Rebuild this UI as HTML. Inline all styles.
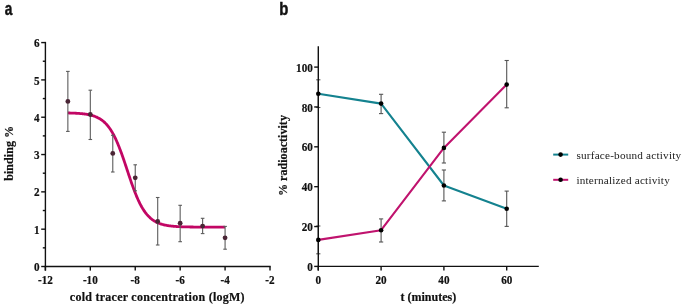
<!DOCTYPE html><html><head><meta charset="utf-8"><style>html,body{margin:0;padding:0;background:#fff;}svg{display:block;filter:blur(0.4px);} .serif{font-family:"Liberation Serif",serif;} .sans{font-family:"Liberation Sans",sans-serif;}</style></head><body>
<svg width="685" height="308" viewBox="0 0 685 308">
<text transform="translate(4.8,14.5) scale(0.78,1)" class="sans" font-weight="bold" font-size="17.5" fill="#111" stroke="#111" stroke-width="0.45">a</text>
<text transform="translate(279.3,14.5) scale(0.85,1)" class="sans" font-weight="bold" font-size="17.5" fill="#111" stroke="#111" stroke-width="0.45">b</text>
<g stroke="#111" stroke-width="1.4" fill="none"><line x1="45.4" y1="41.88" x2="45.4" y2="270.6" /><line x1="44.699999999999996" y1="266.5" x2="270.70" y2="266.5" /><line x1="41.199999999999996" y1="266.50" x2="45.4" y2="266.50" /><line x1="41.199999999999996" y1="229.18" x2="45.4" y2="229.18" /><line x1="41.199999999999996" y1="191.86" x2="45.4" y2="191.86" /><line x1="41.199999999999996" y1="154.54" x2="45.4" y2="154.54" /><line x1="41.199999999999996" y1="117.22" x2="45.4" y2="117.22" /><line x1="41.199999999999996" y1="79.90" x2="45.4" y2="79.90" /><line x1="41.199999999999996" y1="42.58" x2="45.4" y2="42.58" /><line x1="42.8" y1="247.84" x2="45.4" y2="247.84" /><line x1="42.8" y1="210.52" x2="45.4" y2="210.52" /><line x1="42.8" y1="173.20" x2="45.4" y2="173.20" /><line x1="42.8" y1="135.88" x2="45.4" y2="135.88" /><line x1="42.8" y1="98.56" x2="45.4" y2="98.56" /><line x1="42.8" y1="61.24" x2="45.4" y2="61.24" /><line x1="45.40" y1="266.5" x2="45.40" y2="270.6" /><line x1="90.32" y1="266.5" x2="90.32" y2="270.6" /><line x1="135.24" y1="266.5" x2="135.24" y2="270.6" /><line x1="180.16" y1="266.5" x2="180.16" y2="270.6" /><line x1="225.08" y1="266.5" x2="225.08" y2="270.6" /><line x1="270.00" y1="266.5" x2="270.00" y2="270.6" /></g>
<g class="serif" font-weight="bold" font-size="12.0" fill="#111" stroke="#111" stroke-width="0.2"><text transform="translate(39.5,271.10) scale(0.93,1)" text-anchor="end">0</text><text transform="translate(39.5,233.78) scale(0.93,1)" text-anchor="end">1</text><text transform="translate(39.5,196.46) scale(0.93,1)" text-anchor="end">2</text><text transform="translate(39.5,159.14) scale(0.93,1)" text-anchor="end">3</text><text transform="translate(39.5,121.82) scale(0.93,1)" text-anchor="end">4</text><text transform="translate(39.5,84.50) scale(0.93,1)" text-anchor="end">5</text><text transform="translate(39.5,47.18) scale(0.93,1)" text-anchor="end">6</text><text transform="translate(45.40,284.0) scale(0.93,1)" text-anchor="middle">-12</text><text transform="translate(90.32,284.0) scale(0.93,1)" text-anchor="middle">-10</text><text transform="translate(135.24,284.0) scale(0.93,1)" text-anchor="middle">-8</text><text transform="translate(180.16,284.0) scale(0.93,1)" text-anchor="middle">-6</text><text transform="translate(225.08,284.0) scale(0.93,1)" text-anchor="middle">-4</text><text transform="translate(270.00,284.0) scale(0.93,1)" text-anchor="middle">-2</text></g>
<text x="157.35" y="300.8" text-anchor="middle" class="serif" font-weight="bold" font-size="12.0" letter-spacing="0.26" fill="#111" stroke="#111" stroke-width="0.2">cold tracer concentration (logM)</text>
<text transform="translate(12.8,153.35) rotate(-90)" text-anchor="middle" class="serif" font-weight="bold" font-size="12.1" fill="#111" stroke="#111" stroke-width="0.2">binding %</text>
<polyline points="67.86,112.96 68.38,112.97 68.91,112.98 69.43,113.00 69.96,113.01 70.48,113.03 71.00,113.05 71.53,113.06 72.05,113.08 72.58,113.10 73.10,113.12 73.62,113.14 74.15,113.16 74.67,113.19 75.20,113.21 75.72,113.24 76.25,113.27 76.77,113.30 77.29,113.33 77.82,113.36 78.34,113.40 78.87,113.44 79.39,113.47 79.91,113.52 80.44,113.56 80.96,113.61 81.49,113.65 82.01,113.71 82.53,113.76 83.06,113.82 83.58,113.88 84.11,113.94 84.63,114.01 85.15,114.08 85.68,114.16 86.20,114.24 86.73,114.32 87.25,114.41 87.77,114.50 88.30,114.60 88.82,114.70 89.35,114.81 89.87,114.93 90.39,115.05 90.92,115.18 91.44,115.32 91.97,115.46 92.49,115.61 93.02,115.77 93.54,115.94 94.06,116.11 94.59,116.30 95.11,116.49 95.64,116.70 96.16,116.92 96.68,117.15 97.21,117.39 97.73,117.64 98.26,117.91 98.78,118.19 99.30,118.48 99.83,118.79 100.35,119.11 100.88,119.46 101.40,119.81 101.92,120.19 102.45,120.59 102.97,121.00 103.50,121.43 104.02,121.89 104.54,122.37 105.07,122.86 105.59,123.39 106.12,123.93 106.64,124.50 107.16,125.10 107.69,125.72 108.21,126.38 108.74,127.05 109.26,127.76 109.79,128.50 110.31,129.27 110.83,130.06 111.36,130.89 111.88,131.75 112.41,132.65 112.93,133.57 113.45,134.53 113.98,135.53 114.50,136.55 115.03,137.61 115.55,138.71 116.07,139.83 116.60,140.99 117.12,142.19 117.65,143.41 118.17,144.67 118.69,145.96 119.22,147.28 119.74,148.63 120.27,150.01 120.79,151.41 121.31,152.84 121.84,154.29 122.36,155.77 122.89,157.26 123.41,158.78 123.94,160.31 124.46,161.85 124.98,163.41 125.51,164.97 126.03,166.55 126.56,168.13 127.08,169.71 127.60,171.29 128.13,172.87 128.65,174.45 129.18,176.02 129.70,177.57 130.22,179.12 130.75,180.66 131.27,182.18 131.80,183.68 132.32,185.16 132.84,186.62 133.37,188.05 133.89,189.46 134.42,190.85 134.94,192.21 135.46,193.53 135.99,194.83 136.51,196.10 137.04,197.33 137.56,198.54 138.08,199.71 138.61,200.84 139.13,201.95 139.66,203.02 140.18,204.05 140.71,205.06 141.23,206.02 141.75,206.96 142.28,207.86 142.80,208.73 143.33,209.57 143.85,210.38 144.37,211.15 144.90,211.90 145.42,212.62 145.95,213.30 146.47,213.96 146.99,214.59 147.52,215.20 148.04,215.78 148.57,216.33 149.09,216.86 149.61,217.36 150.14,217.85 150.66,218.31 151.19,218.75 151.71,219.17 152.23,219.57 152.76,219.95 153.28,220.31 153.81,220.66 154.33,220.99 154.86,221.30 155.38,221.60 155.90,221.88 156.43,222.15 156.95,222.41 157.48,222.65 158.00,222.89 158.52,223.11 159.05,223.32 159.57,223.51 160.10,223.70 160.62,223.88 161.14,224.05 161.67,224.21 162.19,224.37 162.72,224.51 163.24,224.65 163.76,224.78 164.29,224.90 164.81,225.02 165.34,225.13 165.86,225.24 166.38,225.34 166.91,225.43 167.43,225.52 167.96,225.61 168.48,225.69 169.00,225.77 169.53,225.84 170.05,225.91 170.58,225.97 171.10,226.03 171.63,226.09 172.15,226.15 172.67,226.20 173.20,226.25 173.72,226.30 174.25,226.34 174.77,226.38 175.29,226.42 175.82,226.46 176.34,226.50 176.87,226.53 177.39,226.56 177.91,226.59 178.44,226.62 178.96,226.65 179.49,226.67 180.01,226.70 180.53,226.72 181.06,226.74 181.58,226.76 182.11,226.78 182.63,226.80 183.15,226.82 183.68,226.84 184.20,226.85 184.73,226.87 185.25,226.88 185.78,226.89 186.30,226.91 186.82,226.92 187.35,226.93 187.87,226.94 188.40,226.95 188.92,226.96 189.44,226.97 189.97,226.98 190.49,226.99 191.02,226.99 191.54,227.00 192.06,227.01 192.59,227.01 193.11,227.02 193.64,227.03 194.16,227.03 194.68,227.04 195.21,227.04 195.73,227.05 196.26,227.05 196.78,227.05 197.30,227.06 197.83,227.06 198.35,227.07 198.88,227.07 199.40,227.07 199.92,227.07 200.45,227.08 200.97,227.08 201.50,227.08 202.02,227.09 202.55,227.09 203.07,227.09 203.59,227.09 204.12,227.09 204.64,227.10 205.17,227.10 205.69,227.10 206.21,227.10 206.74,227.10 207.26,227.10 207.79,227.10 208.31,227.11 208.83,227.11 209.36,227.11 209.88,227.11 210.41,227.11 210.93,227.11 211.45,227.11 211.98,227.11 212.50,227.11 213.03,227.11 213.55,227.11 214.07,227.12 214.60,227.12 215.12,227.12 215.65,227.12 216.17,227.12 216.69,227.12 217.22,227.12 217.74,227.12 218.27,227.12 218.79,227.12 219.32,227.12 219.84,227.12 220.36,227.12 220.89,227.12 221.41,227.12 221.94,227.12 222.46,227.12 222.98,227.12 223.51,227.12 224.03,227.12 224.56,227.12 225.08,227.12" fill="none" stroke="#c20664" stroke-width="2.8" stroke-linejoin="round"/>
<g stroke="#5c5c5c" stroke-width="1.1" fill="none"><line x1="67.86" y1="71.4" x2="67.86" y2="131.4" /><line x1="66.06" y1="71.4" x2="69.66" y2="71.4" /><line x1="66.06" y1="131.4" x2="69.66" y2="131.4" /><line x1="90.32" y1="90.2" x2="90.32" y2="139.5" /><line x1="88.52" y1="90.2" x2="92.12" y2="90.2" /><line x1="88.52" y1="139.5" x2="92.12" y2="139.5" /><line x1="112.78" y1="135.3" x2="112.78" y2="172" /><line x1="110.98" y1="135.3" x2="114.58" y2="135.3" /><line x1="110.98" y1="172" x2="114.58" y2="172" /><line x1="135.24" y1="164.8" x2="135.24" y2="190.8" /><line x1="133.44" y1="164.8" x2="137.04" y2="164.8" /><line x1="133.44" y1="190.8" x2="137.04" y2="190.8" /><line x1="157.70" y1="197.5" x2="157.70" y2="245" /><line x1="155.90" y1="197.5" x2="159.50" y2="197.5" /><line x1="155.90" y1="245" x2="159.50" y2="245" /><line x1="180.16" y1="205.3" x2="180.16" y2="241.7" /><line x1="178.36" y1="205.3" x2="181.96" y2="205.3" /><line x1="178.36" y1="241.7" x2="181.96" y2="241.7" /><line x1="202.62" y1="218.3" x2="202.62" y2="233.6" /><line x1="200.82" y1="218.3" x2="204.42" y2="218.3" /><line x1="200.82" y1="233.6" x2="204.42" y2="233.6" /><line x1="225.08" y1="226.4" x2="225.08" y2="249.2" /><line x1="223.28" y1="226.4" x2="226.88" y2="226.4" /><line x1="223.28" y1="249.2" x2="226.88" y2="249.2" /></g>
<circle cx="67.86" cy="101.4" r="2.4" fill="#4a2535"/>
<circle cx="90.32" cy="114.5" r="2.4" fill="#4a2535"/>
<circle cx="112.78" cy="153.4" r="2.4" fill="#4a2535"/>
<circle cx="135.24" cy="177.8" r="2.4" fill="#4a2535"/>
<circle cx="157.70" cy="221.4" r="2.4" fill="#4a2535"/>
<circle cx="180.16" cy="223.2" r="2.4" fill="#4a2535"/>
<circle cx="202.62" cy="226.1" r="2.4" fill="#4a2535"/>
<circle cx="225.08" cy="237.8" r="2.4" fill="#4a2535"/>
<g class="serif" font-weight="bold" font-size="12.0" fill="#111" stroke="#111" stroke-width="0.2"><text transform="translate(312.8,271.00) scale(0.93,1)" text-anchor="end">0</text><text transform="translate(312.8,231.14) scale(0.93,1)" text-anchor="end">20</text><text transform="translate(312.8,191.28) scale(0.93,1)" text-anchor="end">40</text><text transform="translate(312.8,151.42) scale(0.93,1)" text-anchor="end">60</text><text transform="translate(312.8,111.56) scale(0.93,1)" text-anchor="end">80</text><text transform="translate(312.8,71.70) scale(0.93,1)" text-anchor="end">100</text><text transform="translate(318.30,283.9) scale(0.93,1)" text-anchor="middle">0</text><text transform="translate(381.10,283.9) scale(0.93,1)" text-anchor="middle">20</text><text transform="translate(443.90,283.9) scale(0.93,1)" text-anchor="middle">40</text><text transform="translate(506.70,283.9) scale(0.93,1)" text-anchor="middle">60</text></g>
<text x="428.35" y="300.5" text-anchor="middle" class="serif" font-weight="bold" font-size="12.0" fill="#111" stroke="#111" stroke-width="0.2">t (minutes)</text>
<text transform="translate(287.2,155.55) rotate(-90)" text-anchor="middle" class="serif" font-weight="bold" font-size="12.1" fill="#111" stroke="#111" stroke-width="0.2">% radioactivity</text>
<g stroke="#555" stroke-width="1.1" fill="none"><line x1="318.30" y1="79.8" x2="318.30" y2="107.5" /><line x1="316.20" y1="79.8" x2="320.40" y2="79.8" /><line x1="316.20" y1="107.5" x2="320.40" y2="107.5" /><line x1="381.10" y1="94.3" x2="381.10" y2="113.6" /><line x1="379.00" y1="94.3" x2="383.20" y2="94.3" /><line x1="379.00" y1="113.6" x2="383.20" y2="113.6" /><line x1="443.90" y1="170" x2="443.90" y2="200.9" /><line x1="441.80" y1="170" x2="446.00" y2="170" /><line x1="441.80" y1="200.9" x2="446.00" y2="200.9" /><line x1="506.70" y1="191.1" x2="506.70" y2="226.4" /><line x1="504.60" y1="191.1" x2="508.80" y2="191.1" /><line x1="504.60" y1="226.4" x2="508.80" y2="226.4" /><line x1="318.30" y1="226" x2="318.30" y2="253.8" /><line x1="316.20" y1="226" x2="320.40" y2="226" /><line x1="316.20" y1="253.8" x2="320.40" y2="253.8" /><line x1="381.10" y1="218.9" x2="381.10" y2="242" /><line x1="379.00" y1="218.9" x2="383.20" y2="218.9" /><line x1="379.00" y1="242" x2="383.20" y2="242" /><line x1="443.90" y1="132.2" x2="443.90" y2="163" /><line x1="441.80" y1="132.2" x2="446.00" y2="132.2" /><line x1="441.80" y1="163" x2="446.00" y2="163" /><line x1="506.70" y1="60.5" x2="506.70" y2="107.8" /><line x1="504.60" y1="60.5" x2="508.80" y2="60.5" /><line x1="504.60" y1="107.8" x2="508.80" y2="107.8" /></g>
<g stroke="#111" stroke-width="1.4" fill="none"><line x1="318.3" y1="46.2" x2="318.3" y2="270.4" /><line x1="317.6" y1="266.4" x2="538.8" y2="266.4" /><line x1="314.2" y1="266.40" x2="318.3" y2="266.40" /><line x1="314.2" y1="226.54" x2="318.3" y2="226.54" /><line x1="314.2" y1="186.68" x2="318.3" y2="186.68" /><line x1="314.2" y1="146.82" x2="318.3" y2="146.82" /><line x1="314.2" y1="106.96" x2="318.3" y2="106.96" /><line x1="314.2" y1="67.10" x2="318.3" y2="67.10" /><line x1="318.30" y1="266.4" x2="318.30" y2="270.4" /><line x1="381.10" y1="266.4" x2="381.10" y2="270.4" /><line x1="443.90" y1="266.4" x2="443.90" y2="270.4" /><line x1="506.70" y1="266.4" x2="506.70" y2="270.4" /></g>
<polyline points="318.30,93.7 381.10,103.6 443.90,185.5 506.70,208.8" fill="none" stroke="#14828f" stroke-width="2.1" stroke-linejoin="round"/>
<polyline points="318.30,239.9 381.10,230.2 443.90,147.9 506.70,84.6" fill="none" stroke="#c0136e" stroke-width="2.1" stroke-linejoin="round"/>
<circle cx="318.30" cy="93.7" r="2.3" fill="#000"/>
<circle cx="381.10" cy="103.6" r="2.3" fill="#000"/>
<circle cx="443.90" cy="185.5" r="2.3" fill="#000"/>
<circle cx="506.70" cy="208.8" r="2.3" fill="#000"/>
<circle cx="318.30" cy="239.9" r="2.3" fill="#000"/>
<circle cx="381.10" cy="230.2" r="2.3" fill="#000"/>
<circle cx="443.90" cy="147.9" r="2.3" fill="#000"/>
<circle cx="506.70" cy="84.6" r="2.3" fill="#000"/>
<line x1="553.2" y1="154.6" x2="568.2" y2="154.6" stroke="#14828f" stroke-width="2"/>
<circle cx="560.6" cy="154.6" r="2.3" fill="#000"/>
<line x1="553.2" y1="179.8" x2="568.2" y2="179.8" stroke="#c0136e" stroke-width="2"/>
<circle cx="560.6" cy="179.8" r="2.3" fill="#000"/>
<g class="serif" font-size="11.2" letter-spacing="0.21" fill="#1a1a1a">
<text x="576.4" y="158.7">surface-bound activity</text>
<text x="576.4" y="184.3">internalized activity</text>
</g>
</svg></body></html>
